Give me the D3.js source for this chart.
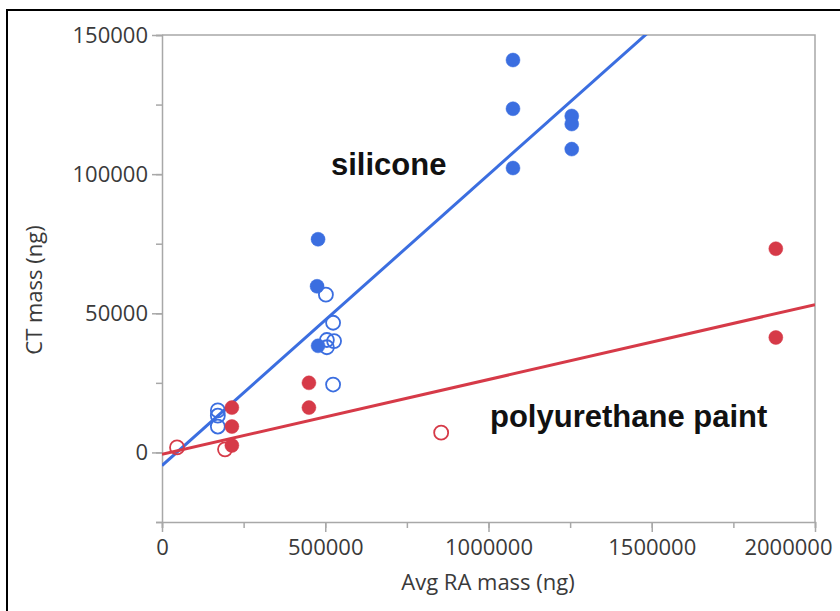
<!DOCTYPE html>
<html>
<head>
<meta charset="utf-8">
<script src="https://cdn.jsdelivr.net/npm/d3@7"></script>
<style>
  body { margin: 0; background: #fff; }
  text { font-family: "Open Sans", sans-serif; }
  text.series-label { font-family: "Liberation Sans", Arial, sans-serif; font-weight: bold; }
</style>
</head>
<body>
<svg id="chart" width="840" height="611"></svg>
<script>
// silicone points: [Avg RA mass, CT mass]
const siliconeFilled = [
  [1075000, 141000], [1075000, 123500], [1075000, 102200],
  [1255000, 120900], [1255000, 118000], [1255000, 109000],
  [478000, 76600], [475000, 59700], [478000, 38300]
];
const siliconeOpen = [
  [502000, 56700], [524000, 46600], [505000, 40400], [527000, 40000],
  [505000, 37800], [524000, 24400],
  [171000, 15100], [171000, 13200], [171000, 9300]
];
const paintFilled = [
  [214000, 16100], [214000, 9300], [214000, 2500],
  [450000, 25000], [450000, 16100],
  [1880000, 73200], [1880000, 41300]
];
const paintOpen = [
  [193000, 1100], [46000, 1800], [855000, 7100]
];
// least-squares fits: [intercept, slope]
const siliconeFit = [-4700, 0.1045];
const paintFit = [-700, 0.0269];

const xTicks = [0, 500000, 1000000, 1500000, 2000000];
const yTicks = [0, 50000, 100000, 150000];

const blue = "#3b6ee0", red = "#d63a48", axisGray = "#a8a8a8";

const svg = d3.select("#chart");

// outer frame (cut at the right and bottom)
svg.append("rect")
  .attr("x", 7).attr("y", 10)
  .attr("width", 900).attr("height", 700)
  .attr("fill", "none").attr("stroke", "#000").attr("stroke-width", 2);

const x = d3.scaleLinear().domain([0, 2000000]).range([162, 815]);
const y = d3.scaleLinear().domain([-25000, 150000]).range([522, 35]);

// plot box top and right
svg.append("path")
  .attr("d", `M${x(0)},${y(150000)}H${x(2000000)}V${y(-25000)}`)
  .attr("fill", "none").attr("stroke", axisGray).attr("stroke-width", 1.5);

// minor ticks
svg.append("g")
  .attr("transform", `translate(${x(0)},0)`)
  .call(d3.axisLeft(y).tickValues(d3.range(-25000, 150001, 25000)).tickSize(6).tickFormat(""))
  .call(g => g.selectAll("line,path").attr("stroke", axisGray).attr("stroke-width", 1.5));
svg.append("g")
  .attr("transform", `translate(0,${y(-25000)})`)
  .call(d3.axisBottom(x).tickValues(d3.range(0, 2000001, 250000)).tickSize(6).tickFormat(""))
  .call(g => g.selectAll("line,path").attr("stroke", axisGray).attr("stroke-width", 1.5));

// major ticks + labels
const yAxis = svg.append("g")
  .attr("transform", `translate(${x(0)},0)`)
  .call(d3.axisLeft(y).tickValues(yTicks).tickSize(10).tickPadding(4).tickFormat(d3.format("d")));
const xAxis = svg.append("g")
  .attr("transform", `translate(0,${y(-25000)})`)
  .call(d3.axisBottom(x).tickValues(xTicks).tickSize(10).tickPadding(7).tickFormat(d3.format("d")));

[yAxis, xAxis].forEach(g => {
  g.select(".domain").remove();
  g.selectAll("line").attr("stroke", axisGray).attr("stroke-width", 1.5);
  g.selectAll("text").attr("font-size", 22).attr("fill", "#3a3a3a")
    .attr("font-family", null);
});
// keep the last x label inside the frame
xAxis.selectAll(".tick").filter(d => d === 2000000).select("text")
  .attr("text-anchor", "end").attr("x", 832 - x(2000000));

// axis titles
svg.append("text")
  .attr("x", 488).attr("y", 590)
  .attr("text-anchor", "middle").attr("font-size", 22).attr("fill", "#3a3a3a")
  .text("Avg RA mass (ng)");
svg.append("text")
  .attr("transform", "translate(42,290) rotate(-90)")
  .attr("text-anchor", "middle").attr("font-size", 22).attr("fill", "#3a3a3a")
  .text("CT mass (ng)");

// fit lines, clipped to the plot box
svg.append("clipPath").attr("id", "plotClip")
  .append("rect")
  .attr("x", x(0)).attr("y", y(150000))
  .attr("width", x(2000000) - x(0)).attr("height", y(-25000) - y(150000));

const plot = svg.append("g").attr("clip-path", "url(#plotClip)");

function fitLine(fit, color) {
  const xs = [0, 2000000];
  plot.append("line")
    .attr("x1", x(xs[0])).attr("y1", y(fit[0] + fit[1] * xs[0]))
    .attr("x2", x(xs[1])).attr("y2", y(fit[0] + fit[1] * xs[1]))
    .attr("stroke", color).attr("stroke-width", 3);
}
fitLine(siliconeFit, blue);
fitLine(paintFit, red);

function dots(data, color, filled) {
  plot.append("g").selectAll("circle")
    .data(data)
    .join("circle")
    .attr("cx", d => x(d[0]))
    .attr("cy", d => y(d[1]))
    .attr("r", 7)
    .attr("fill", filled ? color : "none")
    .attr("stroke", color)
    .attr("stroke-width", filled ? 0.5 : 1.8);
}
dots(paintOpen, red, false);
dots(siliconeOpen, blue, false);
dots(paintFilled, red, true);
dots(siliconeFilled, blue, true);

// series labels
svg.append("text")
  .attr("class", "series-label")
  .attr("x", 331).attr("y", 175)
  .attr("font-size", 31).attr("fill", "#111")
  .text("silicone");
svg.append("text")
  .attr("class", "series-label")
  .attr("x", 490).attr("y", 427)
  .attr("font-size", 31).attr("fill", "#111")
  .text("polyurethane paint");
</script>
</body>
</html>
